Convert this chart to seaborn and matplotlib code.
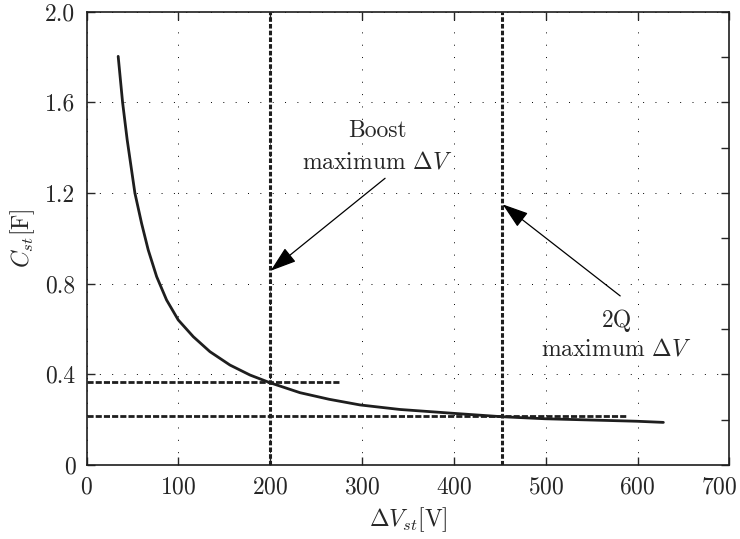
import numpy as np
import pandas as pd
import matplotlib
matplotlib.use('Agg')
import matplotlib.pyplot as plt
import matplotlib.transforms as mtransforms
from matplotlib.ticker import MultipleLocator
import seaborn as sns

# Curve
dv_st = [34.4, 39.2, 44.2, 52.6, 59.9, 67.1, 76.3, 87.1, 99.8, 116.2, 134.3,
         156.1, 177.9, 199.7, 232.4, 264.0, 297.7, 341.0, 399.3, 452.0, 499.0,
         599.0, 628.0]
c_st = [1.803, 1.600, 1.435, 1.200, 1.066, 0.949, 0.831, 0.728, 0.640, 0.566,
        0.500, 0.441, 0.397, 0.363, 0.319, 0.290, 0.265, 0.245, 0.228, 0.213,
        0.204, 0.193, 0.188]

# Reference lines
v_limits = [200, 452]          # Boost / 2Q maximum dV
h_levels = [0.365, 0.218]      # capacitance at those limits
h_ends = [276, 588]

x_ticks = [0, 100, 200, 300, 400, 500, 600, 700]
y_ticks = [0, 0.4, 0.8, 1.2, 1.6, 2.0]
y_ticklabels = ['0', '0.4', '0.8', '1.2', '1.6', '2.0']

df = pd.DataFrame({'dv': dv_st, 'c': c_st})

sns.set_style('ticks')
plt.rcParams['font.family'] = 'serif'
plt.rcParams['font.serif'] = ['cmr10']
plt.rcParams['mathtext.fontset'] = 'cm'
plt.rcParams['axes.formatter.use_mathtext'] = True
plt.rcParams['axes.unicode_minus'] = False

fig = plt.figure(figsize=(7.4, 5.39), dpi=100)
ax = fig.add_axes([0.117, 0.1373, 0.8688, 0.841])

ax.grid(True, color='black', linestyle=(0, (1, 11.7)), linewidth=0.7)

sns.lineplot(data=df, x='dv', y='c', ax=ax, color='#1e1e1e', linewidth=2.0,
             sort=False, estimator=None)

for v in v_limits:
    ax.axvline(v, color='#1e1e1e', linewidth=2.2, linestyle=(0, (1.5, 0.7)))
for lvl, end in zip(h_levels, h_ends):
    ax.plot([0, end], [lvl, lvl], color='#1e1e1e', linewidth=2.0,
            linestyle=(0, (2.2, 0.75)))

arrow = dict(arrowstyle='-|>,head_length=0.9,head_width=0.3', color='black',
             lw=0.9, mutation_scale=18, shrinkA=0, shrinkB=0)
ax.annotate('', xy=(200.4, 0.857), xytext=(325, 1.265), arrowprops=arrow)
ax.annotate('', xy=(453, 1.150), xytext=(581, 0.746), arrowprops=arrow)

ax.text(317, 1.445, 'Boost', ha='center', va='baseline', fontsize=17)
ax.text(317, 1.309, r'maximum $\Delta V$', ha='center', va='baseline', fontsize=17)
ax.text(577, 0.610, '2Q', ha='center', va='baseline', fontsize=17)
ax.text(577, 0.482, r'maximum $\Delta V$', ha='center', va='baseline', fontsize=17)

ax.set_xlim(0, 700)
ax.set_ylim(0, 2.0)
ax.set_xticks(x_ticks)
ax.set_yticks(y_ticks)
ax.set_yticklabels(y_ticklabels)
ax.yaxis.set_minor_locator(MultipleLocator(0.2))
ax.tick_params(which='major', direction='in', length=6, width=1.0,
               top=True, right=True, labelsize=17, pad=8)
ax.tick_params(which='minor', direction='in', length=6, width=1.0,
               left=False, right=True)
for s in ax.spines.values():
    s.set_linewidth(1.2)
    s.set_color('#1e1e1e')

# last x tick label sits slightly left of its tick, as in the reference
last = ax.get_xticklabels()[-1]
last.set_transform(last.get_transform() +
                   mtransforms.ScaledTranslation(-10 / 100, 0, fig.dpi_scale_trans))

ax.set_xlabel(r'$\Delta V_{st}[\mathrm{V}]$', fontsize=17, labelpad=5)
ax.set_ylabel(r'$C_{st}[\mathrm{F}]$', fontsize=17, labelpad=6)

fig.savefig('out.png', dpi=100)
